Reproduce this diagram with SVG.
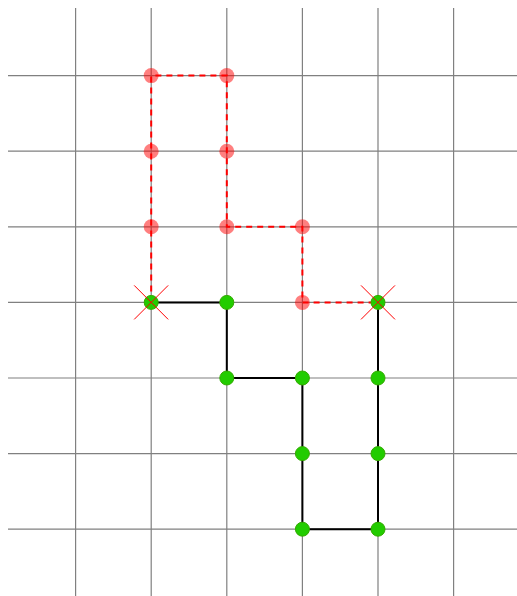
<svg xmlns="http://www.w3.org/2000/svg" width="517" height="596" viewBox="0 0 517 596">
<style>
.g{stroke:#808080;stroke-width:1.2;fill:none}
.red{stroke:#ff0000;stroke-width:2;stroke-dasharray:6,5;fill:none}
.blk{stroke:#000;stroke-width:2;fill:none}
.rd{fill:#ff0000;fill-opacity:0.5}
.gd{fill:#22cc00;stroke:#33aa00;stroke-width:1}
.x{stroke:#ff0000;stroke-width:1}
</style>
<rect width="517" height="596" fill="#fff"/>
<g id="grid">
<path class="g" d="M75.6 8V596M151.2 8V596M226.8 8V596M302.4 8V596M378 8V596M453.6 8V596"/>
<path class="g" d="M8 75.6H517M8 151.2H517M8 226.8H517M8 302.4H517M8 378H517M8 453.6H517M8 529.2H517"/>
</g>
<g id="connectors">
<path class="red" d="M151.2 302.4V75.6H226.8V226.8H302.4V302.4H378"/>
<path class="blk" d="M151.2 302.4H226.8V378H302.4V529.2H378V302.4"/>
</g>
<g id="red-nodes">
<circle class="rd" cx="151.2" cy="75.6" r="7.5"/>
<circle class="rd" cx="226.8" cy="75.6" r="7.5"/>
<circle class="rd" cx="151.2" cy="151.2" r="7.5"/>
<circle class="rd" cx="226.8" cy="151.2" r="7.5"/>
<circle class="rd" cx="151.2" cy="226.8" r="7.5"/>
<circle class="rd" cx="226.8" cy="226.8" r="7.5"/>
<circle class="rd" cx="302.4" cy="226.8" r="7.5"/>
<circle class="rd" cx="302.4" cy="302.4" r="7.5"/>
</g>
<g id="green-nodes">
<circle class="gd" cx="151.2" cy="302.4" r="7"/>
<circle class="gd" cx="226.8" cy="302.4" r="7"/>
<circle class="gd" cx="226.8" cy="378" r="7"/>
<circle class="gd" cx="302.4" cy="378" r="7"/>
<circle class="gd" cx="302.4" cy="453.6" r="7"/>
<circle class="gd" cx="302.4" cy="529.2" r="7"/>
<circle class="gd" cx="378" cy="529.2" r="7"/>
<circle class="gd" cx="378" cy="453.6" r="7"/>
<circle class="gd" cx="378" cy="378" r="7"/>
<circle class="gd" cx="378" cy="302.4" r="7"/>
</g>
<g id="markers">
<path class="x" d="M134.2 285.4L168.2 319.4M168.2 285.4L134.2 319.4"/>
<path class="x" d="M361 285.4L395 319.4M395 285.4L361 319.4"/>
</g>
</svg>
